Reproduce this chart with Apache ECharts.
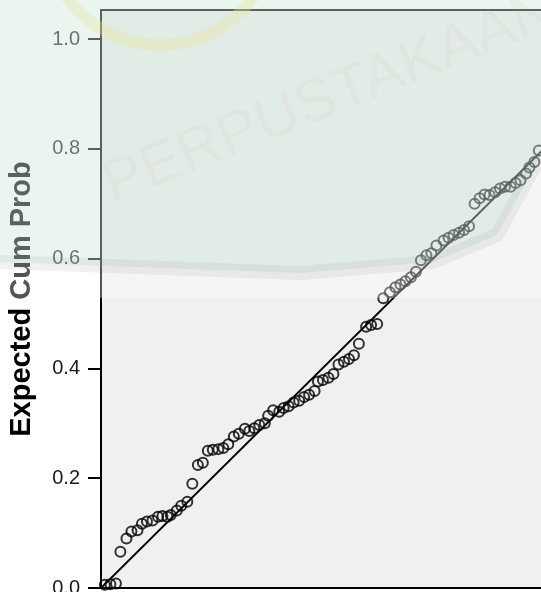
<!DOCTYPE html>
<html>
<head>
<meta charset="utf-8">
<script src="https://cdn.jsdelivr.net/npm/echarts@6/dist/echarts.min.js"></script>
<style>html,body{margin:0;padding:0;background:#fff}#c{width:541px;height:596px}</style>
</head>
<body>
<div id="c"></div>
<script>
// Observed cumulative probability (x) of each plotted case
var obsCumProb = [0.007,0.017,0.027,0.035,0.046,0.055,0.066,0.074,0.083,0.093,0.103,0.111,0.120,0.126,0.137,0.145,0.156,0.165,0.175,0.184,0.193,0.202,0.212,0.221,0.230,0.240,0.249,0.260,0.268,0.277,0.286,0.296,0.302,0.311,0.322,0.330,0.339,0.348,0.358,0.367,0.376,0.386,0.392,0.401,0.411,0.420,0.429,0.439,0.448,0.457,0.466,0.479,0.488,0.499,0.510,0.522,0.532,0.541,0.550,0.560,0.569,0.578,0.588,0.597,0.606,0.619,0.628,0.637,0.647,0.656,0.665,0.675,0.684,0.693,0.702,0.712,0.721,0.730,0.740,0.749,0.758,0.768,0.774,0.783,0.791];
// Expected cumulative probability (y) of each plotted case
var expCumProb = [0.006,0.007,0.008,0.066,0.090,0.103,0.105,0.117,0.121,0.123,0.130,0.131,0.130,0.133,0.141,0.150,0.157,0.190,0.224,0.228,0.250,0.252,0.253,0.255,0.262,0.276,0.281,0.290,0.286,0.291,0.297,0.300,0.314,0.324,0.321,0.328,0.331,0.338,0.341,0.348,0.352,0.359,0.376,0.379,0.383,0.390,0.407,0.412,0.417,0.424,0.445,0.476,0.479,0.481,0.528,0.539,0.548,0.553,0.559,0.566,0.576,0.597,0.606,0.610,0.624,0.633,0.638,0.643,0.647,0.652,0.659,0.700,0.710,0.717,0.716,0.721,0.728,0.731,0.731,0.738,0.743,0.755,0.766,0.776,0.797];
// Reference (normal) line endpoints
var refLine = [[0, 0], [1, 1]];
// Y tick values
var yTicks = [0, 0.2, 0.4, 0.6, 0.8, 1.0];
var yTitle = 'Expected Cum Prob';

var points = obsCumProb.map(function (x, i) { return [x, expCumProb[i]]; });

// watermark (library seal) outline, a background decoration only
var sealEdge = [[0, 262], [300, 273], [433, 262], [497, 235], [541, 155]];

var chart = echarts.init(document.getElementById('c'), null, {renderer: 'canvas'});
chart.setOption({
  animation: false,
  backgroundColor: '#ffffff',
  grid: {
    left: 101, right: 0, top: 10, bottom: 8,
    outerBoundsMode: 'none', containLabel: false,
    show: true, backgroundColor: '#f0f0f0', borderWidth: 0
  },
  xAxis: [{
    type: 'value', min: 0, max: 0.795, position: 'bottom',
    axisLine: {show: true, onZero: false, lineStyle: {color: '#000', width: 2}},
    axisTick: {show: false}, axisLabel: {show: false}, splitLine: {show: false}
  }, {
    type: 'value', min: 0, max: 0.795, position: 'top',
    axisLine: {show: true, onZero: false, lineStyle: {color: '#000', width: 2}},
    axisTick: {show: false}, axisLabel: {show: false}, splitLine: {show: false}
  }],
  yAxis: {
    type: 'value', min: 0, max: 1.053,
    name: yTitle, nameLocation: 'middle', nameGap: 65,
    nameTextStyle: {fontFamily: 'Liberation Sans, Arial, sans-serif', fontWeight: 'bold', fontSize: 29, color: '#000'},
    axisLine: {show: true, onZero: false, lineStyle: {color: '#000', width: 2}},
    axisTick: {show: true, length: 13, lineStyle: {color: '#000', width: 2}, customValues: yTicks},
    axisLabel: {
      customValues: yTicks, margin: 21,
      fontFamily: 'Liberation Sans, Arial, sans-serif', fontSize: 20, color: '#1a1a1a',
      formatter: function (v) { return v.toFixed(1); }
    },
    splitLine: {show: false}
  },
  series: [{
    type: 'line', data: refLine, xAxisIndex: 0,
    symbol: 'none', clip: true,
    lineStyle: {color: '#000', width: 1.8}, z: 3
  }, {
    type: 'scatter', data: points, xAxisIndex: 0,
    symbol: 'circle', symbolSize: 10, clip: false,
    itemStyle: {color: 'rgba(0,0,0,0)', borderColor: '#000', borderWidth: 2},
    z: 4
  }],
  graphic: [{
    type: 'text', x: 95, y: 160, rotation: 0.38, z: 1, silent: true,
    style: {text: 'PERPUSTAKAAN', fontSize: 60, fontFamily: 'Liberation Sans, Arial, sans-serif',
      fill: 'rgba(210,70,70,0.07)'}
  }, {
    type: 'circle', z: 1, silent: true,
    shape: {cx: 160, cy: -70, r: 115},
    style: {fill: 'none', stroke: 'rgba(250,225,110,0.35)', lineWidth: 12}
  }, {
    type: 'rect', x: 0, y: 0, z: 100, silent: true,
    shape: {width: 541, height: 298},
    style: {fill: 'rgba(255,255,255,0.33)'}
  }, {
    type: 'polygon', z: 101, silent: true,
    shape: {points: [[0, 0], [541, 0]].concat(sealEdge.slice().reverse())},
    style: {fill: 'rgba(118,185,145,0.15)'}
  }, {
    type: 'polyline', z: 102, silent: true,
    shape: {points: sealEdge},
    style: {stroke: 'rgba(120,120,120,0.10)', lineWidth: 14, fill: 'none'}
  }, {
    type: 'rect', x: 0, y: 592, z: 200, silent: true,
    shape: {width: 541, height: 4},
    style: {fill: '#ffffff'}
  }]
});
</script>
</body>
</html>
